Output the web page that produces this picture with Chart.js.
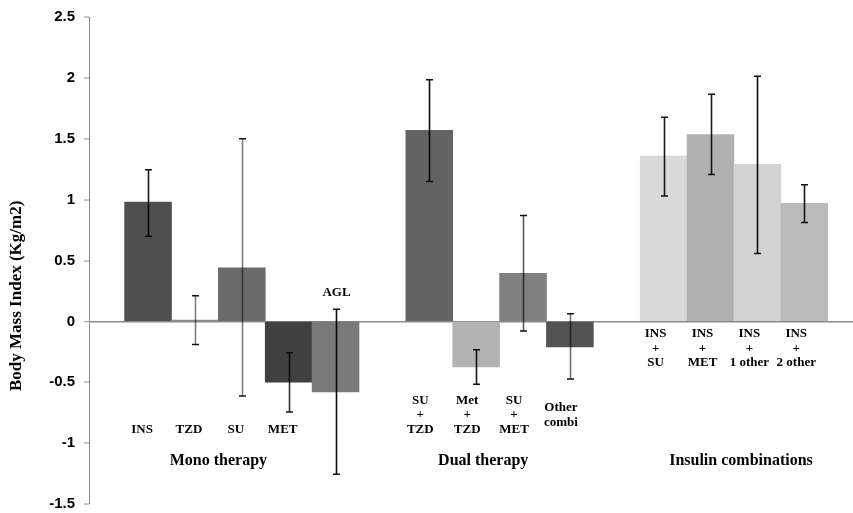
<!DOCTYPE html>
<html>
<head>
<meta charset="utf-8">
<title>Body Mass Index change by treatment</title>
<script src="https://cdn.jsdelivr.net/npm/chart.js@4.4.1/dist/chart.umd.min.js"></script>
<style>
  html, body { margin: 0; padding: 0; background: #ffffff; }
  #wrap { width: 853px; height: 513px; }
</style>
</head>
<body>
<div id="wrap"><canvas id="bmi" width="853" height="513"></canvas></div>
<script>
// Treatment groups and the regimens in each one
const groupNames = ['Mono therapy', 'Dual therapy', 'Insulin combinations'];
const groupSizes = [5, 4, 4];

// Regimen labels (one entry per line of text)
const categories = [
  ['INS'], ['TZD'], ['SU'], ['MET'], ['AGL'],
  ['SU', '+', 'TZD'], ['Met', '+', 'TZD'], ['SU', '+', 'MET'], ['Other', 'combi'],
  ['INS', '+', 'SU'], ['INS', '+', 'MET'], ['INS', '+', '1 other'], ['INS', '+', '2 other']
];

// Mean change in BMI (kg/m2) and the ends of its error bar
const bmiChange = [0.98, 0.01, 0.44, -0.50, -0.58, 1.57, -0.375, 0.395, -0.21, 1.357, 1.535, 1.29, 0.97];
const errUpper  = [1.245, 0.21, 1.50, -0.257, 0.10, 1.984, -0.233, 0.87, 0.063, 1.677, 1.866, 2.014, 1.122];
const errLower  = [0.70, -0.19, -0.613, -0.745, -1.256, 1.149, -0.517, -0.08, -0.474, 1.029, 1.207, 0.558, 0.813];

// Y axis ticks
const yTicks = [-1.5, -1, -0.5, 0, 0.5, 1, 1.5, 2, 2.5];

// Bar fills and error-bar stroke shades
const barColors = ['#4f4f4f', '#8c8c8c', '#6a6a6a', '#404040', '#7a7a7a',
                   '#636363', '#b3b3b3', '#808080', '#525252',
                   '#d9d9d9', '#b0b0b0', '#d3d3d3', '#bababa'];
const errStroke = ['rgba(0,0,0,0.9)', 'rgba(0,0,0,0.5)', 'rgba(0,0,0,0.5)', 'rgba(0,0,0,0.8)', 'rgba(0,0,0,0.95)',
                   'rgba(0,0,0,0.95)', 'rgba(0,0,0,0.9)', 'rgba(0,0,0,0.65)', 'rgba(0,0,0,0.55)',
                   'rgba(0,0,0,0.9)', 'rgba(0,0,0,0.9)', 'rgba(0,0,0,0.95)', 'rgba(0,0,0,0.9)'];

// Slot index of every bar: groups sit side by side with one empty slot between them
const slots = [];
{
  let s = 0;
  groupSizes.forEach((n) => {
    for (let k = 0; k < n; k++) slots.push(s++);
    s++;
  });
}
const groupOf = [];
groupSizes.forEach((n, g) => { for (let k = 0; k < n; k++) groupOf.push(g); });

// Where the text sits: per group, the y value of the label block centre and a horizontal nudge
const labelLayout = [
  { y: -0.887, dx: -6 },
  { y: -0.77, dx: -9 },
  { y: -0.22, dx: -8 }
];
const groupLabelX = [1.5, 7.15, 12.65];
const groupLabelY = -1.147;

const serif = '"Liberation Serif", "Times New Roman", serif';

const errorBars = {
  id: 'errorBars',
  afterDatasetsDraw(chart) {
    const meta = chart.getDatasetMeta(0);
    const y = chart.scales.y;
    const ctx = chart.ctx;
    ctx.save();
    meta.data.forEach((bar, i) => {
      const top = y.getPixelForValue(errUpper[i]);
      const bot = y.getPixelForValue(errLower[i]);
      const x = Math.round(bar.x) + 0.5;
      ctx.strokeStyle = errStroke[i];
      ctx.lineWidth = 1.6;
      ctx.beginPath();
      ctx.moveTo(x, top);
      ctx.lineTo(x, bot);
      ctx.stroke();
      ctx.strokeStyle = '#111';
      ctx.lineWidth = 1.5;
      ctx.beginPath();
      ctx.moveTo(x - 3.5, top);
      ctx.lineTo(x + 3.5, top);
      ctx.moveTo(x - 3.5, bot);
      ctx.lineTo(x + 3.5, bot);
      ctx.stroke();
    });
    ctx.restore();
  }
};

const textLabels = {
  id: 'textLabels',
  afterDraw(chart) {
    const ctx = chart.ctx;
    const xs = chart.scales.x;
    const ys = chart.scales.y;
    ctx.save();
    ctx.fillStyle = '#000';
    ctx.textAlign = 'center';
    ctx.textBaseline = 'middle';

    // regimen labels
    ctx.font = 'bold 13px ' + serif;
    const lineH = 14.5;
    categories.forEach((lines, i) => {
      const lay = labelLayout[groupOf[i]];
      let cx = xs.getPixelForValue(slots[i]) + lay.dx;
      let cy = ys.getPixelForValue(lay.y);
      if (lines[0] === 'AGL') {
        // the AGL bar's error bar runs into the label row, so its label sits above the bar
        cx = xs.getPixelForValue(slots[i]) + 1;
        cy = ys.getPixelForValue(0.238);
      }
      const startY = cy - (lines.length - 1) * lineH / 2;
      lines.forEach((t, j) => ctx.fillText(t, cx, startY + j * lineH));
    });

    // group labels
    ctx.font = 'bold 16px ' + serif;
    groupNames.forEach((name, g) => {
      ctx.fillText(name, xs.getPixelForValue(groupLabelX[g]), ys.getPixelForValue(groupLabelY));
    });

    // y axis title
    ctx.font = 'bold 17px ' + serif;
    ctx.translate(17, ys.getPixelForValue(0.21));
    ctx.rotate(-Math.PI / 2);
    ctx.fillText('Body Mass Index (Kg/m2)', 0, 0);
    ctx.restore();
  }
};

new Chart(document.getElementById('bmi'), {
  type: 'bar',
  data: {
    datasets: [{
      data: bmiChange.map((v, i) => ({ x: slots[i], y: v })),
      backgroundColor: barColors,
      borderWidth: 0,
      barPercentage: 1,
      categoryPercentage: 1
    }]
  },
  options: {
    responsive: false,
    animation: false,
    devicePixelRatio: 1,
    layout: { padding: { top: 17, bottom: 9, left: 0, right: 0 } },
    plugins: {
      legend: { display: false },
      tooltip: { enabled: false },
      title: { display: false }
    },
    scales: {
      x: {
        type: 'linear',
        display: false,
        offset: false,
        min: -1.26,
        max: 15.04,
        afterBuildTicks(scale) { scale.ticks = slots.map(v => ({ value: v })); }
      },
      y: {
        min: -1.5,
        max: 2.5,
        afterBuildTicks(scale) { scale.ticks = yTicks.map(v => ({ value: v })); },
        afterFit(scale) {
          scale.width = 89;
          scale.paddingTop = 0;
          scale.paddingBottom = 0;
        },
        border: { display: true, color: '#8a8a8a', width: 1 },
        grid: {
          drawOnChartArea: true,
          drawTicks: true,
          tickLength: 5,
          tickColor: '#8a8a8a',
          tickWidth: 1,
          color: c => (c.tick && c.tick.value === 0 ? '#8a8a8a' : 'rgba(0,0,0,0)'),
          lineWidth: c => (c.tick && c.tick.value === 0 ? 1.5 : 0)
        },
        ticks: {
          color: '#000',
          padding: 9,
          font: { family: '"Liberation Sans", Arial, sans-serif', weight: 'bold', size: 15 },
          callback: v => String(v)
        }
      }
    }
  },
  plugins: [errorBars, textLabels]
});
</script>
</body>
</html>
